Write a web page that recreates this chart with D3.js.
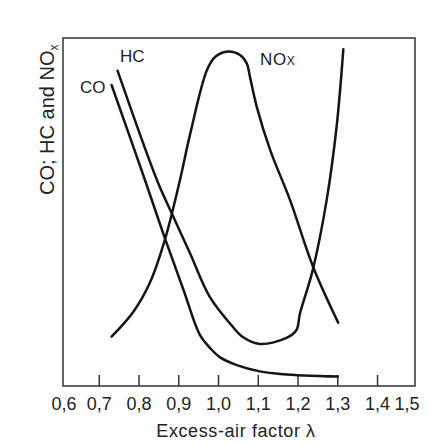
<!DOCTYPE html>
<html>
<head>
<meta charset="utf-8">
<script src="https://cdn.jsdelivr.net/npm/d3@7"></script>
<style>
  html, body { margin: 0; padding: 0; background: #fff; }
  svg { display: block; }
  text { font-family: "Liberation Sans", Arial, Helvetica, sans-serif; fill: #222; }
</style>
</head>
<body>
<svg id="chart" width="429" height="447"></svg>
<script>
// ---- data (λ, relative emission level 0..100) ----
const tickValues = [0.6, 0.7, 0.8, 0.9, 1.0, 1.1, 1.2, 1.3, 1.4, 1.5];
const tickLabels = ["0,6", "0,7", "0,8", "0,9", "1,0", "1,1", "1,2", "1,3", "1,4", "1,5"];
const tickMarks  = [0.7, 0.8, 0.9, 1.0, 1.1, 1.2, 1.3, 1.4];

const coLambda = [0.731, 0.815, 0.865, 0.912, 0.953, 0.979, 1.003, 1.046, 1.104, 1.162, 1.300];
const coValues = [86.5, 59.2, 42.5, 27.6, 14.7, 10.9, 8.3, 6.0, 4.2, 3.4, 2.7];

const hcLambda = [0.746, 0.845, 0.882, 0.928, 0.978, 1.036, 1.061, 1.104, 1.171, 1.196, 1.205, 1.237, 1.272, 1.297, 1.314];
const hcValues = [90.6, 59.2, 49.7, 38.2, 25.6, 17.0, 14.1, 12.1, 13.8, 16.1, 20.9, 33.3, 53.4, 74.5, 96.8];

const noxLambda = [0.731, 0.785, 0.827, 0.865, 0.903, 0.928, 0.971, 0.992, 1.024, 1.054, 1.071, 1.079, 1.096, 1.130, 1.180, 1.238, 1.301];
const noxValues = [14.2, 21.2, 29.6, 42.0, 59.2, 72.1, 90.8, 94.6, 96.1, 95.1, 92.7, 88.9, 80.3, 67.8, 53.4, 34.2, 18.2];

const seriesNames = ["CO", "HC", "NO"];
const yAxisTitle = "CO; HC and NO";
const xAxisTitle = "Excess-air factor λ";

// ---- layout ----
const box = { left: 63, top: 38, right: 415, bottom: 386 };
const svg = d3.select("#chart");

const x = d3.scaleLinear().domain([0.6, 1.5]).range([59.5, 417.3]);
const y = d3.scaleLinear().domain([0, 100]).range([box.bottom, box.top]);

// frame
svg.append("rect")
  .attr("x", box.left).attr("y", box.top)
  .attr("width", box.right - box.left).attr("height", box.bottom - box.top)
  .attr("fill", "none").attr("stroke", "#333").attr("stroke-width", 1.5);

// inner tick marks
svg.append("g").selectAll("line").data(tickMarks).join("line")
  .attr("x1", d => x(d)).attr("x2", d => x(d))
  .attr("y1", box.bottom).attr("y2", box.bottom - 11)
  .attr("stroke", "#333").attr("stroke-width", 1.5);

// tick labels
svg.append("g").selectAll("text").data(tickValues).join("text")
  .attr("x", d => Math.min(Math.max(x(d), 64), 407))
  .attr("y", 410)
  .attr("text-anchor", "middle")
  .attr("font-size", 18)
  .text((d, i) => tickLabels[i]);

// x title
svg.append("text")
  .attr("x", 236).attr("y", 437)
  .attr("text-anchor", "middle")
  .attr("font-size", 18)
  .attr("letter-spacing", 0.6)
  .text(xAxisTitle);

// y title
const yt = svg.append("text")
  .attr("transform", "translate(54,195) rotate(-90)")
  .attr("text-anchor", "start")
  .attr("font-size", 20)
  .text(yAxisTitle);
yt.append("tspan").attr("font-size", 12).attr("dy", 4).text("x");

// curves
const line = d3.line().x(d => x(d[0])).y(d => y(d[1])).curve(d3.curveCatmullRom.alpha(0.5));
const series = [
  d3.zip(coLambda, coValues),
  d3.zip(hcLambda, hcValues),
  d3.zip(noxLambda, noxValues)
];
svg.append("g").selectAll("path").data(series).join("path")
  .attr("d", line)
  .attr("fill", "none")
  .attr("stroke", "#151515")
  .attr("stroke-width", 2.5)
  .attr("stroke-linecap", "round")
  .attr("stroke-linejoin", "round");

// curve labels
svg.append("text").attr("x", 80).attr("y", 93).attr("font-size", 17).text(seriesNames[0]);
svg.append("text").attr("x", 120).attr("y", 62).attr("font-size", 17).text(seriesNames[1]);
const nl = svg.append("text").attr("x", 260).attr("y", 65).attr("font-size", 17).attr("letter-spacing", 0.6).text(seriesNames[2]);
nl.append("tspan").attr("font-size", 12).attr("letter-spacing", 0).text("X");
</script>
</body>
</html>
